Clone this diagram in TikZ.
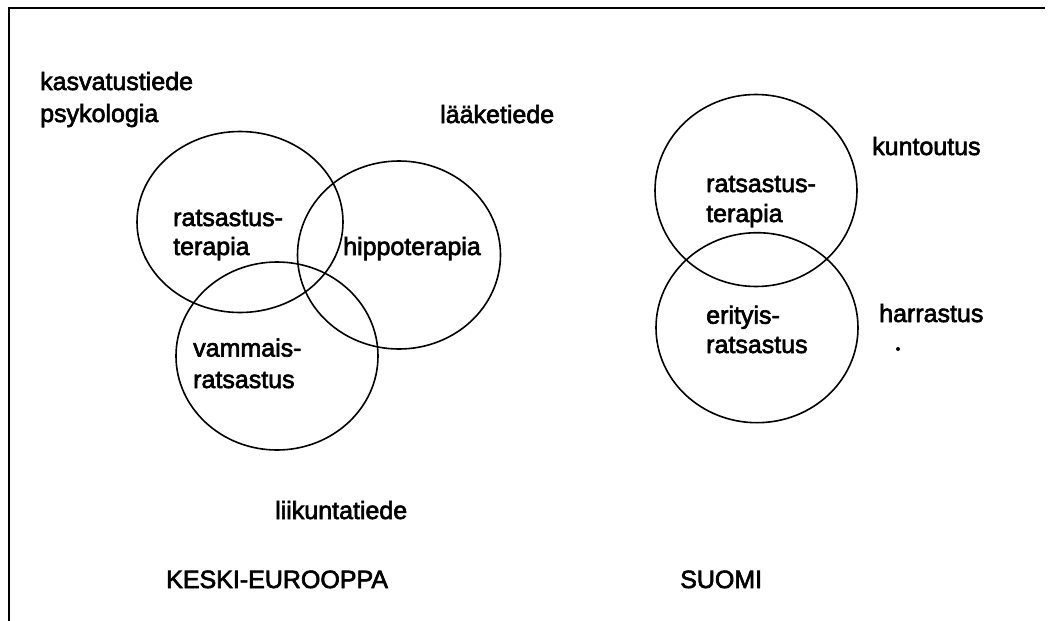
\documentclass[tikz,border=0pt]{standalone}
\usepackage{fontspec}
\setmainfont{Liberation Sans}
\newfontfamily\scanfont[FakeBold=2.5]{Liberation Sans}
\usetikzlibrary{shapes.geometric}
\begin{document}
\begin{tikzpicture}[x=1pt,y=-1pt,
  lbl/.style={anchor=base west,inner sep=0pt,align=left,font=\scanfont\fontsize{25}{30}\selectfont},
  venn/.style={draw,ellipse,line width=1.6pt,inner sep=0pt},
  frameline/.style={line width=2.2pt}]
\useasboundingbox (0,0) rectangle (1050,621);
% frame
\coordinate (fbl) at (9,621);
\coordinate (ftl) at (9,8);
\coordinate (ftr) at (1045,8);
\draw[frameline] (fbl) -- (ftl) -- (ftr);
% left diagram
\node[venn,minimum width=206pt,minimum height=181pt] (A) at (240,222) {};
\node[venn,minimum width=203pt,minimum height=188pt] (B) at (399,255) {};
\node[venn,minimum width=202pt,minimum height=188pt] (C) at (277,356) {};
\node[lbl] (tA) at (173,255) {ratsastus-\\[-1pt]terapia};
\node[lbl] (tB) at (343,255) {hippoterapia};
\node[lbl] (tC) at (193,388) {vammais-\\[1.5pt]ratsastus};
\node[lbl] (kasv) at (40,122) {kasvatustiede\\[2pt]psykologia};
\node[lbl] (laak) at (440,123) {lääketiede};
\node[lbl] (liik) at (275,519) {liikuntatiede};
\node[lbl] (keski) at (166,588) {KESKI-EUROOPPA};
% right diagram
\node[venn,minimum width=202pt,minimum height=192pt] (D) at (756,190.5) {};
\node[venn,minimum width=202pt,minimum height=190pt] (E) at (757,327.7) {};
\node[lbl] (tD) at (706,222) {ratsastus-\\terapia};
\node[lbl] (tE) at (706,353) {erityis-\\[-0.7pt]ratsastus};
\node[lbl] (kunt) at (872,155) {kuntoutus};
\node[lbl] (harr) at (879,322) {harrastus};
\node[lbl] (suomi) at (680,588) {SUOMI};
\fill (898,349) circle (2pt);
\end{tikzpicture}
\end{document}
